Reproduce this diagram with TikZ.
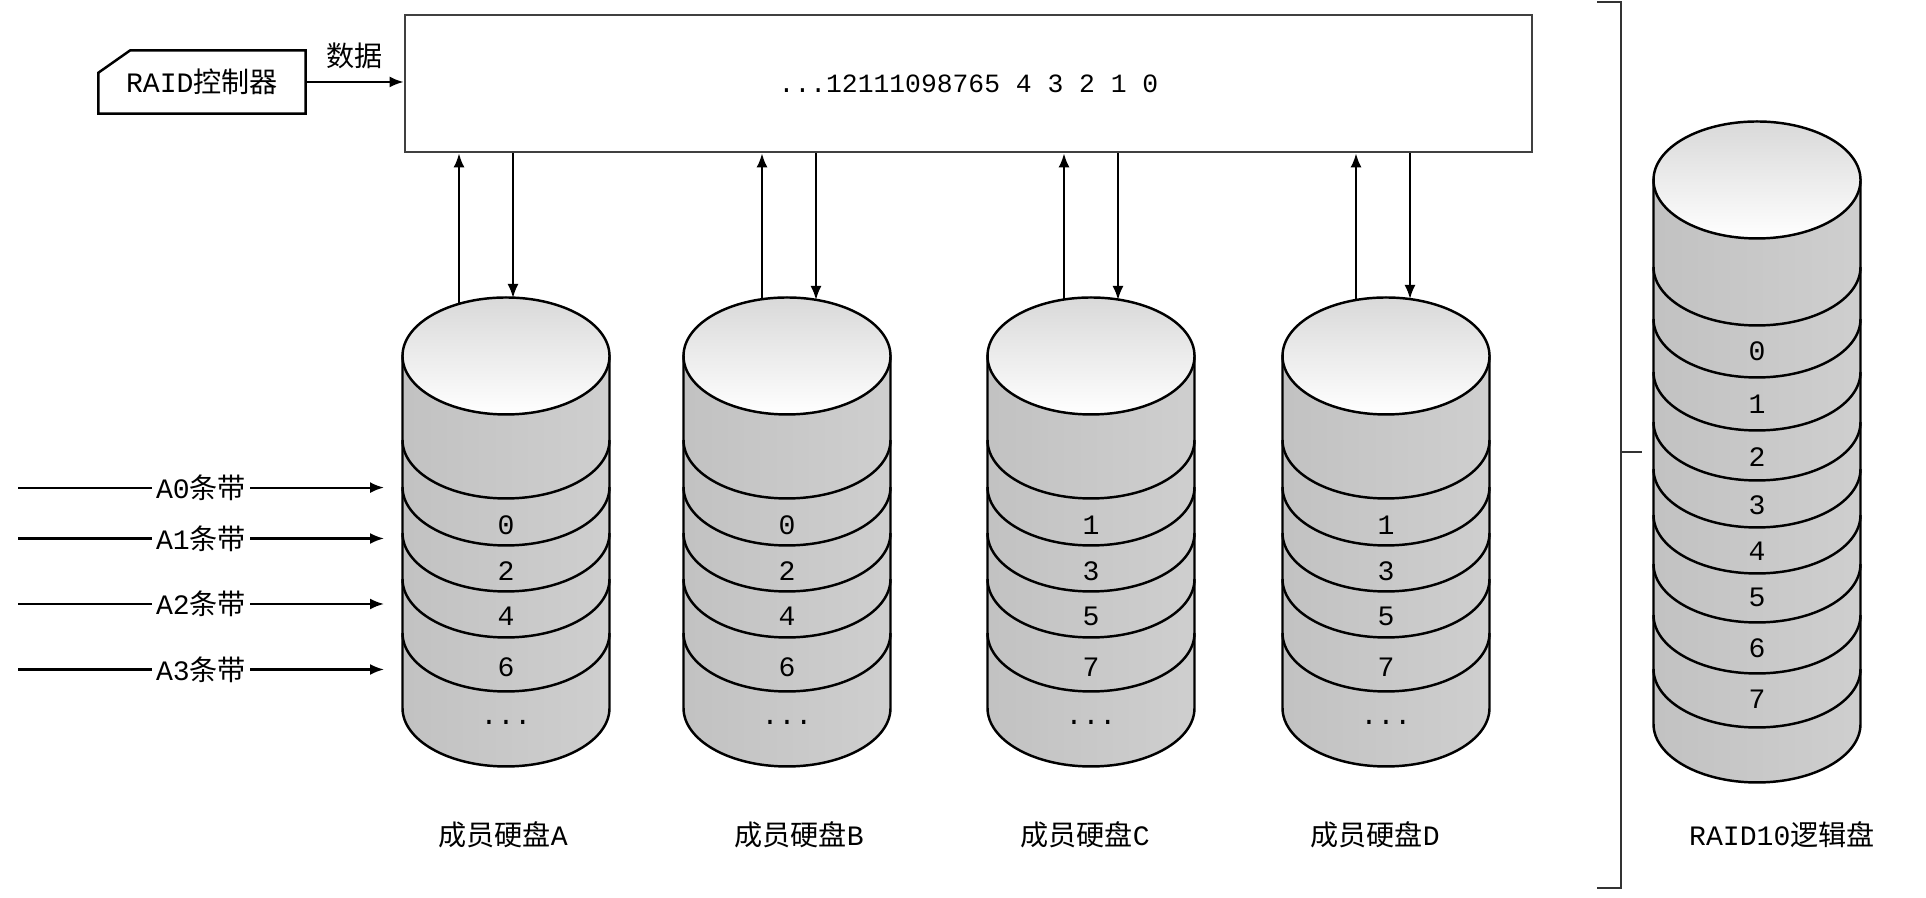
\documentclass[tikz,border=0pt]{standalone}
\usepackage{fontspec}
\setmainfont{Noto Sans CJK SC}
\newfontfamily\latinmono{Liberation Mono}
\usepackage{tikz}
\usetikzlibrary{positioning,arrows.meta,calc}

\tikzset{
  disk body/.style={left color=gray!48, middle color=gray!16, right color=gray!38, draw=black, line width=0.7pt},
  disk top/.style={top color=gray!30, bottom color=white, draw=black, line width=0.7pt},
  disk line/.style={draw=black, line width=0.7pt}
}
% stacked disk: centre x, top centre y, bottom arc y, inner arc ys
\newcommand{\diskstack}[4]{%
  \shade[disk body] (#1-103.5,#2) -- (#1-103.5,#3) arc (180:360:103.5 and 58.5) -- (#1+103.5,#2) -- cycle;
  \foreach \yy in {#4}
    \draw[disk line] (#1-103.5,\yy) arc (180:360:103.5 and 58.5);
  \shade[disk top] (#1,#2) ellipse (103.5 and 58.5);
}

\begin{document}
\begin{tikzpicture}[x=0.1mm, y=0.1mm, font=\fontsize{8}{10}\selectfont,
  conn/.style={-{Latex[length=1.4mm,width=1.1mm]}, line width=0.6pt},
  num/.style={font=\fontsize{8}{10}\selectfont\latinmono, inner sep=0pt},
  stripe/.style={fill=white, inner sep=1pt}]
\useasboundingbox (0,0) rectangle (1926,898);
% controller and buffer
\node[minimum width=20.6mm, minimum height=6.2mm, inner sep=0pt] (ctrl) at (202,816) {{\latinmono RAID}控制器};
\draw[line width=0.7pt] (ctrl.south west) -- (ctrl.south east) -- (ctrl.north east)
  -- ([xshift=3.2mm]ctrl.north west) -- ([yshift=-2.25mm]ctrl.north west) -- cycle;
\node[draw=black!75, line width=0.8pt, minimum width=112.7mm, minimum height=13.7mm, inner sep=0pt,
  font=\fontsize{7.5}{10}\selectfont\latinmono] (bus) at (968.5,814.5) {...12111098765 4 3 2 1 0};
\draw[conn] (ctrl.east) -- node[above] (data) {数据} (ctrl.east -| bus.west);
% member disks
\diskstack{506}{542}{190}{458,411,365,319,265}
\diskstack{787}{542}{190}{458,411,365,319,265}
\diskstack{1091}{542}{190}{458,411,365,319,265}
\diskstack{1386}{542}{190}{458,411,365,319,265}
\foreach \t/\yy in {0/373,2/327,4/282,6/231} \node[num] (A\t) at (506,\yy) {\t};
\foreach \t/\yy in {0/373,2/327,4/282,6/231} \node[num] (B\t) at (787,\yy) {\t};
\foreach \t/\yy in {1/373,3/327,5/282,7/231} \node[num] (C\t) at (1091,\yy) {\t};
\foreach \t/\yy in {1/373,3/327,5/282,7/231} \node[num] (D\t) at (1386,\yy) {\t};
\node[num] (Adots) at (506,176) {...};
\node[num] (Bdots) at (787,176) {...};
\node[num] (Cdots) at (1091,176) {...};
\node[num] (Ddots) at (1386,176) {...};
\node (capA) at (503,63) {成员硬盘{\latinmono A}};
\node (capB) at (799,63) {成员硬盘{\latinmono B}};
\node (capC) at (1085,63) {成员硬盘{\latinmono C}};
\node (capD) at (1375,63) {成员硬盘{\latinmono D}};
% links to the buffer
\foreach \d/\xu/\yu/\xd/\yd in {A/459/594/513/600, B/762/599/816/598, C/1064/598/1118/598, D/1356/598/1410/599} {
  \coordinate (\d-up) at (\xu,\yu);
  \coordinate (\d-dn) at (\xd,\yd);
  \draw[conn] (\d-up) -- (\d-up |- bus.south);
  \draw[conn] (\d-dn |- bus.south) -- (\d-dn);
}
% stripes
\foreach \t/\yy in {0/410.4,1/359.5,2/294,3/228.5} {
  \coordinate (s\t-a) at (18,\yy);
  \coordinate (s\t-b) at (384,\yy);
  \draw[conn] (s\t-a) -- node[stripe] (s\t) {{\latinmono A\t}条带} (s\t-b);
}
% bracket
\draw[black!80, line width=0.7pt] (1597,896) -- (1621,896) -- (1621,10) -- (1597,10);
\draw[black!80, line width=0.7pt] (1621,446) -- (1642,446);
% logical disk
\diskstack{1757}{718}{174}{631,579,526,476,429,383,334,283,229}
\foreach \t/\yy in {0/547,1/494,2/441,3/393,4/347,5/301,6/250,7/199} \node[num] (L\t) at (1757,\yy) {\t};
\node (capL) at (1782,63) {{\latinmono RAID10}逻辑盘};
\end{tikzpicture}
\end{document}
